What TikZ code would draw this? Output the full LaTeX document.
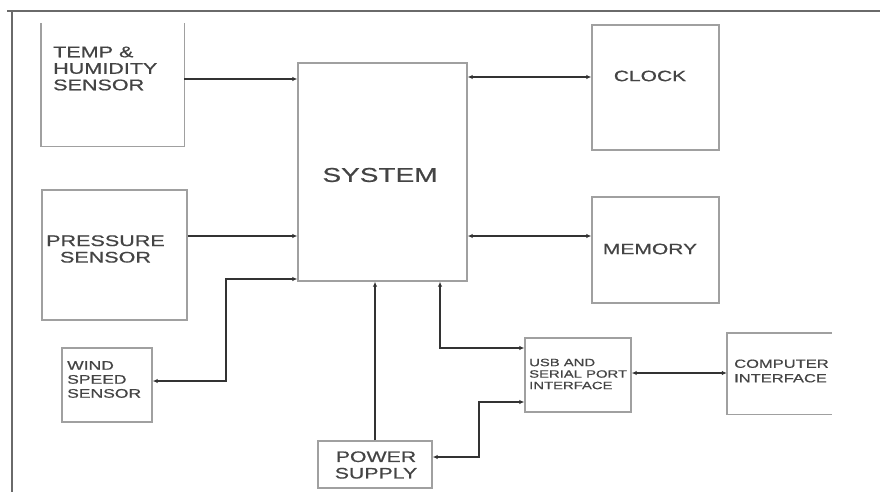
\documentclass[tikz,border=0pt]{standalone}
\usepackage{fontspec}
\setmainfont{Liberation Sans}
\newfontfamily\wide[FakeStretch=1.4,FakeBold=0.6]{Liberation Sans}
\usetikzlibrary{arrows.meta}
\definecolor{boxgray}{HTML}{A0A0A0}
\definecolor{linegray}{HTML}{333333}
\definecolor{txtgray}{HTML}{444444}
\definecolor{framegray}{HTML}{6A6A6A}
\newcommand{\fs}[2]{\wide\fontsize{#1}{#2}\selectfont}
\tikzset{
  box/.style={draw=boxgray, line width=1.4pt, inner sep=0pt},
  openbox/.style={draw=none, inner sep=0pt},
  side/.style={draw=boxgray, line width=1.4pt},
  lbl/.style={inner sep=0pt, text=txtgray},
  conn/.style={draw=linegray, line width=1.8pt, arrows={-Latex[length=5pt,width=4.5pt]}},
  conn2/.style={draw=linegray, line width=1.8pt, arrows={Latex[length=5pt,width=4.5pt]-Latex[length=5pt,width=4.5pt]}},
}
\begin{document}
\begin{tikzpicture}[x=1pt,y=-1pt]
\useasboundingbox (0,0) rectangle (880,492);
% frame
\draw[framegray, line width=2.2pt] (7,11) -- (880,11);
\draw[framegray, line width=2.2pt] (12,11) -- (12,492);
% boxes
\node[openbox, minimum width=143pt, minimum height=123pt] (temp) at (112.5,84.5) {};
\draw[side] (temp.north west) -- (temp.south west) -- (temp.south east) -- (temp.north east);
\node[box, minimum width=145pt, minimum height=130pt] (pres) at (114.5,255) {};
\node[box, minimum width=90pt, minimum height=74pt] (wind) at (107,385) {};
\node[box, minimum width=169pt, minimum height=218pt] (sys) at (382.5,172) {};
\node[box, minimum width=127pt, minimum height=125pt] (clock) at (655.5,87.5) {};
\node[box, minimum width=127pt, minimum height=106pt] (mem) at (655.5,250) {};
\node[box, minimum width=106pt, minimum height=74pt] (usb) at (578,375) {};
\node[openbox, minimum width=105pt, minimum height=81pt] (comp) at (779.5,373.5) {};
\draw[side] (comp.north east) -- (comp.north west) -- (comp.south west) -- (comp.south east);
\node[box, minimum width=114pt, minimum height=47pt] (power) at (375,464.5) {};
% labels
\node[lbl, anchor=west, align=left, font=\fs{15.4}{16.5}] (tempt) at (53,68.5) {TEMP \&\\HUMIDITY\\SENSOR};
\node[lbl, align=center, font=\fs{15.4}{16.5}] (prest) at (105.5,249) {PRESSURE\\SENSOR};
\node[lbl, anchor=west, align=left, font=\fs{12.5}{14}] (windt) at (67,379.5) {WIND\\SPEED\\SENSOR};
\node[lbl, font=\fs{20}{22}] (syst) at (380,175) {SYSTEM};
\node[lbl, font=\fs{15}{17}] (clockt) at (650,76) {CLOCK};
\node[lbl, font=\fs{15}{17}] (memt) at (650,249) {MEMORY};
\node[lbl, anchor=west, align=left, font=\fs{10.6}{11.5}] (usbt) at (529,374) {USB AND\\SERIAL PORT\\INTERFACE};
\node[lbl, anchor=west, align=left, font=\fs{11.8}{14.5}] (compt) at (734,371) {COMPUTER\\INTERFACE};
\node[lbl, align=center, font=\fs{15.2}{16.5}] (powert) at (376,465) {POWER\\SUPPLY};
% connectors
\coordinate (t1) at ([yshift=5.5pt]temp.east);
\draw[conn] (t1) -- (t1 -| sys.west);
\coordinate (p1) at ([yshift=19pt]pres.east);
\draw[conn] (p1) -- (p1 -| sys.west);
\draw[conn2] ([yshift=4pt]wind.east) -- ++(73,0) |- ([yshift=-107pt]sys.west);
\coordinate (c1) at ([yshift=10.5pt]clock.west);
\draw[conn2] (c1 -| sys.east) -- (c1);
\coordinate (m1) at ([yshift=14pt]mem.west);
\draw[conn2] (m1 -| sys.east) -- (m1);
\draw[conn] (power.north) -- (power.north |- sys.south);
\coordinate (u1) at ([yshift=27pt]usb.west);
\draw[conn2] ([xshift=57.5pt]sys.south) |- (u1);
\draw[conn2] ([yshift=7.5pt]power.east) -- ++(46,0) |- ([yshift=-27pt]usb.west);
\coordinate (u2) at ([yshift=2pt]usb.east);
\draw[conn2] (u2) -- (u2 -| comp.west);
\end{tikzpicture}
\end{document}
